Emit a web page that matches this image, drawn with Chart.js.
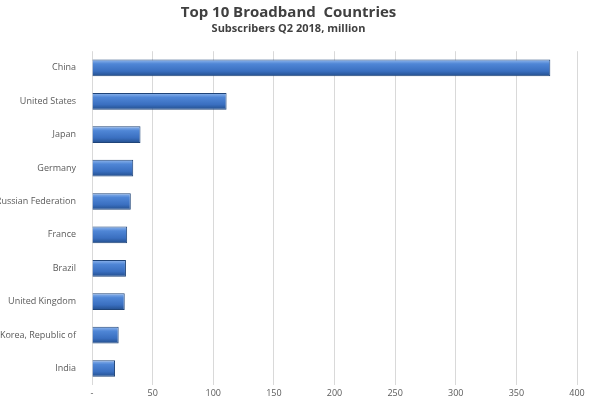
<!DOCTYPE html>
<html>
<head>
<meta charset="utf-8">
<script src="https://cdn.jsdelivr.net/npm/chart.js@4.4.0/dist/chart.umd.min.js"></script>
<style>
  body { margin: 0; background: #fff; }
  #wrap { width: 591px; height: 404px; }
</style>
</head>
<body>
<div id="wrap"><canvas id="c"></canvas></div>
<script>
const countries = ['China', 'United States', 'Japan', 'Germany', 'Russian Federation',
  'France', 'Brazil', 'United Kingdom', 'Korea, Republic of', 'India'];
const subscribers = [378, 111, 40, 34, 32, 29, 28, 27, 22, 19];
const xTicks = [0, 50, 100, 150, 200, 250, 300, 350, 400];

// vertical gradient per bar, like the bevelled Excel bars
function barFill(context) {
  const chart = context.chart;
  const y = chart.scales.y;
  if (!y || context.dataIndex === undefined) return '#3f75c4';
  const cy = y.getPixelForValue(context.dataIndex);
  if (!Number.isFinite(cy)) return '#3f75c4';
  const h = 16;
  const g = chart.ctx.createLinearGradient(0, cy - h / 2, 0, cy + h / 2);
  g.addColorStop(0, '#8db4ec');
  g.addColorStop(0.25, '#4f86d6');
  g.addColorStop(0.7, '#3a6fc0');
  g.addColorStop(1, '#24508f');
  return g;
}

new Chart(document.getElementById('c'), {
  type: 'bar',
  data: {
    labels: countries,
    datasets: [{
      data: subscribers,
      backgroundColor: barFill,
      borderColor: '#1f4478',
      borderWidth: 1,
      barPercentage: 0.5,
      categoryPercentage: 1
    }]
  },
  options: {
    indexAxis: 'y',
    responsive: true,
    maintainAspectRatio: false,
    animation: false,
    layout: { padding: { left: 0, right: 14, top: 0, bottom: 2 } },
    plugins: {
      legend: { display: false },
      tooltip: { enabled: false },
      title: {
        display: true,
        text: 'Top 10 Broadband  Countries',
        color: '#404040',
        font: { family: 'Open Sans', size: 15, weight: 'bold' },
        padding: { top: 4, bottom: 0 }
      },
      subtitle: {
        display: true,
        text: 'Subscribers Q2 2018, million',
        color: '#404040',
        font: { family: 'Open Sans', size: 11, weight: 'bold' },
        padding: { top: 0, bottom: 16 }
      }
    },
    scales: {
      x: {
        min: 0,
        max: 400,
        afterBuildTicks: axis => { axis.ticks = xTicks.map(v => ({ value: v })); },
        ticks: {
          color: '#595959',
          font: { family: 'Open Sans', size: 9 },
          callback: v => v === 0 ? '-' : v
        },
        grid: { color: '#d9d9d9', drawTicks: false },
        border: { display: false }
      },
      y: {
        ticks: {
          color: '#595959',
          font: { family: 'Open Sans', size: 9 },
          padding: 8
        },
        grid: { display: false },
        border: { display: false },
        afterFit: axis => { axis.width = 92; }
      }
    }
  }
});
</script>
</body>
</html>
